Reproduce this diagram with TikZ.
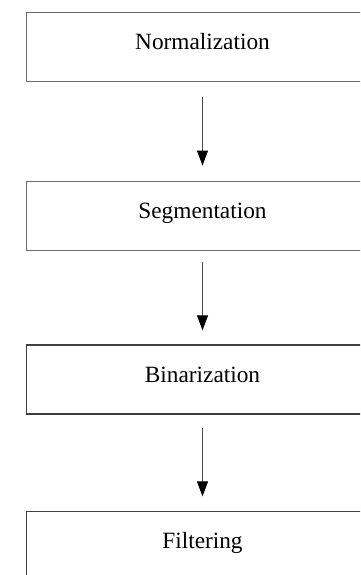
\documentclass[tikz,border=0pt]{standalone}
\usepackage{fontspec}
\setmainfont{Liberation Serif}
\usetikzlibrary{arrows.meta}
\definecolor{boxgray}{gray}{0.42}
\definecolor{boxdark}{gray}{0.25}
\begin{document}
\begin{tikzpicture}[x=1pt,y=-1pt,
  stage/.style={draw=boxgray, line width=1.3pt, minimum width=352pt, minimum height=69pt,
    inner sep=0pt, text height=15.4pt, text depth=10pt, font=\fontsize{23.3}{28}\selectfont},
  flow/.style={draw=black!70, line width=0.9pt, -{Triangle[width=11pt,length=15pt,color=black]}}]
\useasboundingbox (0,0) rectangle (360,575);
\clip (0,0) rectangle (360,575);
\node[stage] (n1) at (202.5,47) {Normalization};
\node[stage] (n2) at (202.5,216.2) {Segmentation};
\node[stage, draw=boxdark] (n3) at (202.5,379.5) {Binarization};
\node[stage, draw=boxdark] (n4) at (202.5,546) {Filtering};
\draw[flow, shorten <=14.5pt, shorten >=15.5pt] (n1.south) -- (n2.north);
\draw[flow, shorten <=11pt, shorten >=14pt] (n2.south) -- (n3.north);
\draw[flow, shorten <=13pt, shorten >=14.5pt] (n3.south) -- (n4.north);
\end{tikzpicture}
\end{document}
